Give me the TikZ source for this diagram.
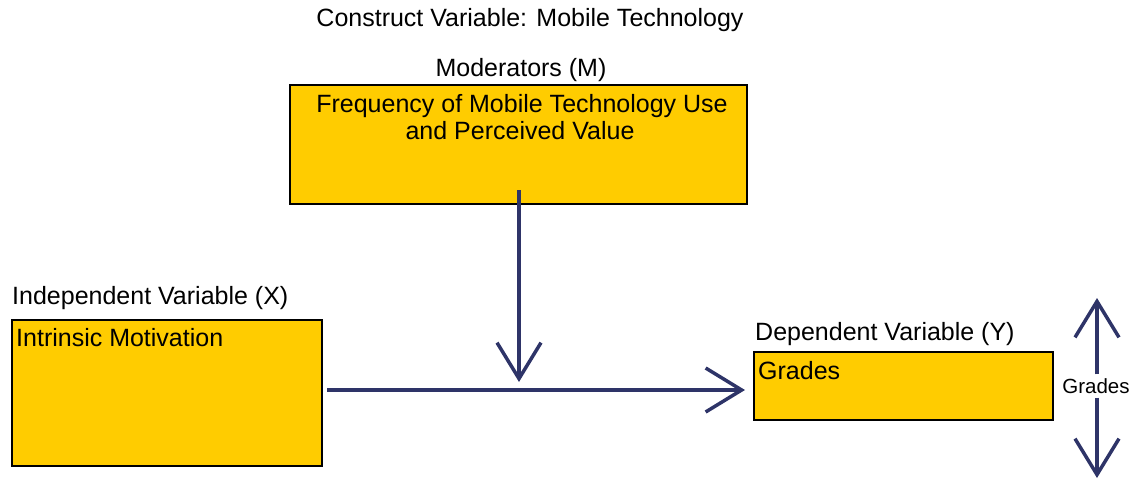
\documentclass[tikz,border=0pt]{standalone}
\usepackage{fontspec}
\setmainfont{Liberation Sans}
\usetikzlibrary{arrows.meta}
\definecolor{boxfill}{HTML}{FFCC00}
\definecolor{arrowcol}{HTML}{2E3468}
\tikzset{
  varbox/.style={draw=black, line width=2pt, fill=boxfill, inner sep=0pt},
  lbl/.style={font=\fontsize{25}{28}\selectfont, inner sep=0pt, text=black},
  smalllbl/.style={font=\fontsize{20.5}{24}\selectfont, inner sep=0pt, text=black},
  flow/.style={draw=arrowcol, line width=3.5pt, -{Straight Barb[length=36pt,width=44pt,line width=3.5pt]}},
}
\begin{document}
\begin{tikzpicture}[x=1pt,y=-1pt]
\useasboundingbox (0,0) rectangle (1135,480);
% boxes
\node[varbox, minimum width=457pt, minimum height=119pt] (mod) at (518.5,144.5) {};
\node[varbox, minimum width=310pt, minimum height=146pt] (iv) at (167,393) {};
\node[varbox, minimum width=299pt, minimum height=68pt] (dv) at (903.5,386) {};
% titles
\node[lbl, anchor=base] (title) at (530,26) {Construct Variable: Mobile Technology};
\node[lbl, anchor=base] (modt) at (521,76) {Moderators (M)};
\node[lbl, anchor=base west] (ivt) at (12,304) {Independent Variable (X)};
\node[lbl, anchor=base west] (dvt) at (755,340) {Dependent Variable (Y)};
% box texts
\node[lbl, anchor=base] (modtx1) at (522,112) {Frequency of Mobile Technology Use};
\node[lbl, anchor=base] (modtx2) at (520,139) {and Perceived Value};
\node[lbl, anchor=base west] (ivtx) at (16,346) {Intrinsic Motivation};
\node[lbl, anchor=base west] (dvtx) at (758,379) {Grades};
\node[smalllbl] (gr) at (1096,386) {Grades};
% connectors
\coordinate (modbot) at (519,190);
\coordinate (join) at (519,382);
\coordinate (ivr) at (327,390);
\coordinate (dvl) at (745,390);
\coordinate (up) at (1097,298);
\coordinate (down) at (1097,478);
\draw[flow] (modbot) -- (join);
\draw[flow] (ivr) -- (dvl);
\draw[flow] (gr.north -| up) ++(0,-4) -- (up);
\draw[flow] (gr.south -| down) ++(0,4) -- (down);
\end{tikzpicture}
\end{document}
